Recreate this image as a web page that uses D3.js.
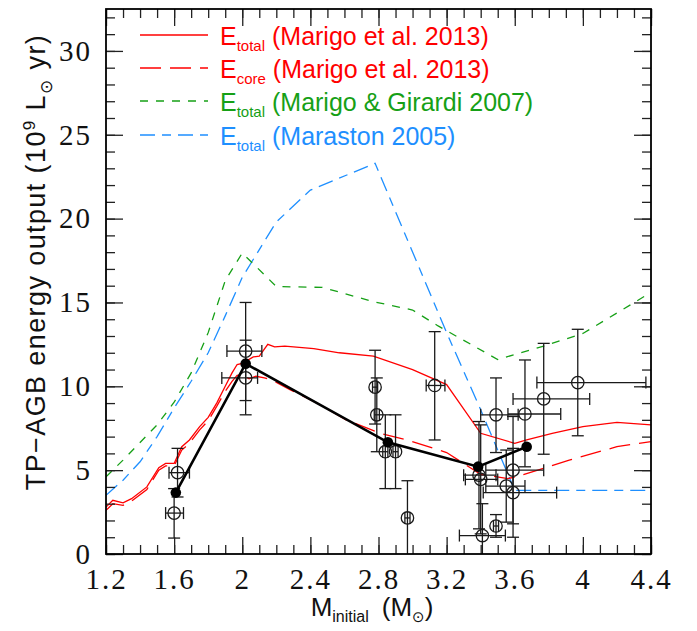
<!DOCTYPE html>
<html>
<head>
<meta charset="utf-8">
<script src="https://cdn.jsdelivr.net/npm/d3@7/dist/d3.min.js"></script>
<style>
  html, body { margin: 0; padding: 0; background: #fff; }
  svg { display: block; }
  .tick text { font-family: "Liberation Serif", serif; font-size: 29px; letter-spacing: 2px; fill: #111; }
  .tick line { stroke: #222; stroke-width: 1.3px; }
</style>
</head>
<body>
<div id="chart"></div>
<script>
// --- Data ---
// Marigo et al. 2013, total energy
const totalMass = [1.2, 1.24, 1.3, 1.35, 1.44, 1.51, 1.55, 1.6, 1.645, 1.69, 1.75, 1.8, 1.85, 1.9, 1.94, 1.97, 2.0, 2.065, 2.1, 2.15, 2.19, 2.25, 2.42, 2.57, 2.77, 3.0, 3.2, 3.4, 3.6, 3.67, 3.82, 4.0, 4.2, 4.4];
const totalEnergy = [2.8, 3.2, 3.05, 3.3, 4.0, 5.15, 5.4, 5.4, 6.4, 6.8, 7.6, 8.15, 9.0, 10.0, 10.8, 11.3, 11.37, 11.75, 11.8, 12.5, 12.35, 12.4, 12.25, 12.0, 11.8, 11.0, 10.1, 7.2, 6.6, 6.8, 7.2, 7.6, 7.85, 7.7];

// Marigo et al. 2013, core energy
const coreMass = [1.2, 1.24, 1.3, 1.35, 1.44, 1.51, 1.55, 1.6, 1.645, 1.69, 1.75, 1.8, 1.85, 1.9, 1.94, 1.97, 2.0, 2.04, 2.08, 2.13, 2.18, 2.28, 2.44, 2.61, 2.81, 2.97, 3.2, 3.4, 3.56, 3.61, 3.92, 4.2, 4.4];
const coreEnergy = [2.6, 3.0, 2.9, 3.15, 3.85, 5.0, 5.25, 5.25, 6.2, 6.6, 7.4, 7.95, 8.8, 9.7, 10.3, 10.65, 10.7, 10.45, 10.6, 10.5, 10.35, 9.8, 9.0, 8.0, 7.2, 6.8, 6.05, 4.75, 4.5, 4.6, 5.6, 6.4, 6.7];

// Marigo & Girardi 2007
const mg07Mass = [1.2, 1.3, 1.4, 1.5, 1.6, 1.7, 1.8, 1.9, 2.0, 2.2, 2.47, 2.77, 3.0, 3.15, 3.5, 3.77, 4.0, 4.4];
const mg07Energy = [4.6, 5.6, 6.65, 7.7, 9.05, 10.8, 13.2, 16.3, 17.95, 15.95, 15.9, 15.05, 14.55, 13.6, 11.6, 12.4, 13.15, 15.6];

// Maraston 2005
const m05Mass = [1.2, 1.3, 1.4, 1.5, 1.6, 1.7, 1.8, 1.9, 2.0, 2.2, 2.4, 2.78, 3.2, 3.4, 3.6, 4.4];
const m05Energy = [3.5, 4.4, 5.5, 7.0, 8.7, 10.3, 12.0, 14.2, 16.5, 19.8, 21.7, 23.3, 13.2, 8.6, 3.8, 3.8];

// individual cluster measurements with error bars
const obsMass = [1.60, 1.62, 2.02, 2.02, 2.78, 2.79, 2.84, 2.90, 2.97, 3.13, 3.39, 3.40, 3.41, 3.49, 3.49, 3.55, 3.59, 3.59, 3.66, 3.77, 3.97];
const obsEnergy = [2.44, 4.85, 12.1, 10.5, 9.95, 8.3, 6.1, 6.1, 2.15, 10.05, 4.7, 4.45, 1.1, 8.3, 1.67, 4.05, 5.0, 3.66, 8.35, 9.25, 10.22];
const obsMassLo = [1.55, 1.57, 1.91, 1.88, 2.765, 2.775, 2.825, 2.885, 2.955, 3.08, 3.30, 3.31, 3.275, 3.40, 3.475, 3.43, 3.43, 3.415, 3.56, 3.59, 3.73];
const obsMassHi = [1.655, 1.69, 2.115, 2.09, 2.795, 2.805, 2.855, 2.915, 2.985, 3.19, 3.49, 3.50, 3.545, 3.62, 3.505, 3.66, 3.77, 3.846, 3.87, 4.04, 4.37];
const obsEnergyLo = [0.95, 3.4, 9.15, 8.3, 7.75, 6.1, 3.9, 3.9, 0, 6.8, 1.5, 1.2, 0, 6.05, 1.0, 1.9, 1.8, 1.0, 5.2, 5.95, 7.05];
const obsEnergyHi = [3.9, 6.3, 15.0, 12.75, 12.15, 10.5, 8.3, 8.3, 4.37, 13.26, 7.9, 7.7, 3.0, 10.5, 2.35, 6.2, 8.2, 6.3, 11.57, 12.56, 13.4];

// binned averages joined by the black line
const binMass = [1.61, 2.02, 2.855, 3.385, 3.67];
const binEnergy = [3.66, 11.35, 6.66, 5.21, 6.4];

// axis ticks
const xMajorTicks = [1.2, 1.6, 2.0, 2.4, 2.8, 3.2, 3.6, 4.0, 4.4];
const xTickLabels = ['1.2', '1.6', '2', '2.4', '2.8', '3.2', '3.6', '4', '4.4'];
const yMajorTicks = [0, 5, 10, 15, 20, 25, 30];
const yTickLabels = ['0', '5', '10', '15', '20', '25', '30'];

// legend entries
const legendRefs = ['(Marigo et al. 2013)', '(Marigo et al. 2013)', '(Marigo & Girardi 2007)', '(Maraston 2005)'];
const legendSubs = ['total', 'core', 'total', 'total'];

// --- Setup ---
const W = 697, H = 631;
const plot = { left: 106, right: 651, top: 9, bottom: 554 };

const svg = d3.select('#chart').append('svg')
    .attr('width', W)
    .attr('height', H);

svg.append('rect').attr('width', W).attr('height', H).attr('fill', '#fff');

const x = d3.scaleLinear().domain([1.2, 4.4]).range([plot.left, plot.right]);
const y = d3.scaleLinear().domain([0, 32.5]).range([plot.bottom, plot.top]);

svg.append('clipPath').attr('id', 'clip')
    .append('rect')
    .attr('x', plot.left).attr('y', plot.top)
    .attr('width', plot.right - plot.left)
    .attr('height', plot.bottom - plot.top);

const styles = [
    { color: '#ff0000', dash: null, width: 1.3 },
    { color: '#ff0000', dash: '21,9', width: 1.3 },
    { color: '#16a016', dash: '8,8', width: 1.3 },
    { color: '#1e8fff', dash: '15,7,9,7', width: 1.3 }
];

// --- Model curves ---
function drawCurve(masses, energies, style) {
    const line = d3.line().x(d => x(d[0])).y(d => y(d[1]));
    svg.append('path')
        .datum(d3.zip(masses, energies))
        .attr('clip-path', 'url(#clip)')
        .attr('fill', 'none')
        .attr('stroke', style.color)
        .attr('stroke-width', style.width)
        .attr('stroke-dasharray', style.dash)
        .attr('d', line);
}

drawCurve(m05Mass, m05Energy, styles[3]);
drawCurve(mg07Mass, mg07Energy, styles[2]);
drawCurve(coreMass, coreEnergy, styles[1]);
drawCurve(totalMass, totalEnergy, styles[0]);

// --- Observations ---
function drawObservations() {
    const g = svg.append('g').attr('clip-path', 'url(#clip)')
        .attr('stroke', '#1a1a1a').attr('stroke-width', 1.3).attr('fill', 'none');
    const cap = 6;

    obsMass.forEach((m, i) => {
        const cx = x(m), cy = y(obsEnergy[i]);
        const x0 = x(obsMassLo[i]), x1 = x(obsMassHi[i]);
        const y0 = y(obsEnergyLo[i]), y1 = y(obsEnergyHi[i]);
        // horizontal bar + caps
        g.append('line').attr('x1', x0).attr('x2', x1).attr('y1', cy).attr('y2', cy);
        g.append('line').attr('x1', x0).attr('x2', x0).attr('y1', cy - cap).attr('y2', cy + cap);
        g.append('line').attr('x1', x1).attr('x2', x1).attr('y1', cy - cap).attr('y2', cy + cap);
        // vertical bar + caps
        g.append('line').attr('x1', cx).attr('x2', cx).attr('y1', y0).attr('y2', y1);
        if (obsEnergyLo[i] > 0) g.append('line').attr('x1', cx - cap).attr('x2', cx + cap).attr('y1', y0).attr('y2', y0);
        g.append('line').attr('x1', cx - cap).attr('x2', cx + cap).attr('y1', y1).attr('y2', y1);
        g.append('circle').attr('cx', cx).attr('cy', cy).attr('r', 6.2);
    });
}

drawObservations();

// binned means
svg.append('path')
    .datum(d3.zip(binMass, binEnergy))
    .attr('fill', 'none')
    .attr('stroke', '#000')
    .attr('stroke-width', 2.6)
    .attr('d', d3.line().x(d => x(d[0])).y(d => y(d[1])));

svg.selectAll('.bin')
    .data(d3.zip(binMass, binEnergy))
    .enter()
    .append('circle')
    .attr('cx', d => x(d[0]))
    .attr('cy', d => y(d[1]))
    .attr('r', 5.3)
    .attr('fill', '#000');

// --- Axes ---
const xMinorTicks = d3.range(12, 45).map(d => d / 10);
const yMinorTicks = d3.range(0, 33);

function addAxis(axis, transform) {
    const g = svg.append('g').attr('transform', transform).call(axis);
    g.select('.domain').remove();
    return g;
}

const bottomY = `translate(0,${plot.bottom})`;
const topY = `translate(0,${plot.top})`;
const leftX = `translate(${plot.left},0)`;
const rightX = `translate(${plot.right},0)`;

addAxis(d3.axisBottom(x).tickValues(xMinorTicks).tickSize(-9).tickFormat(''), bottomY);
addAxis(d3.axisTop(x).tickValues(xMinorTicks).tickSize(-9).tickFormat(''), topY);
addAxis(d3.axisLeft(y).tickValues(yMinorTicks).tickSize(-9).tickFormat(''), leftX);
addAxis(d3.axisRight(y).tickValues(yMinorTicks).tickSize(-9).tickFormat(''), rightX);

addAxis(d3.axisBottom(x).tickValues(xMajorTicks).tickSize(-17).tickPadding(14)
    .tickFormat((d, i) => xTickLabels[i]), bottomY);
addAxis(d3.axisTop(x).tickValues(xMajorTicks).tickSize(-17).tickFormat(''), topY);
addAxis(d3.axisLeft(y).tickValues(yMajorTicks).tickSize(-17).tickPadding(14)
    .tickFormat((d, i) => yTickLabels[i]), leftX);
addAxis(d3.axisRight(y).tickValues(yMajorTicks).tickSize(-17).tickFormat(''), rightX);

// frame
svg.append('rect')
    .attr('x', plot.left).attr('y', plot.top)
    .attr('width', plot.right - plot.left)
    .attr('height', plot.bottom - plot.top)
    .attr('fill', 'none')
    .attr('stroke', '#000')
    .attr('stroke-width', 1.8);

// --- Axis titles ---
const labelFont = '"Liberation Sans", Arial, sans-serif';

const xTitle = svg.append('text')
    .attr('x', 372).attr('y', 616)
    .attr('text-anchor', 'middle')
    .attr('font-family', labelFont)
    .attr('font-size', 26)
    .attr('fill', '#111');
xTitle.append('tspan').text('M');
xTitle.append('tspan').attr('font-size', 16).attr('dy', 6).text('initial');
xTitle.append('tspan').attr('dy', -6).text('\u2002(M');
xTitle.append('tspan').attr('font-size', 15).attr('dy', 6).attr('font-family', 'DejaVu Sans').text('\u2299');
xTitle.append('tspan').attr('dy', -6).text(')');

const yTitle = svg.append('text')
    .attr('transform', 'translate(45,262) rotate(-90)')
    .attr('text-anchor', 'middle')
    .attr('font-family', labelFont)
    .attr('font-size', 27)
    .attr('letter-spacing', 1.4)
    .attr('fill', '#111');
yTitle.append('tspan').text('TP\u2212AGB energy output (10');
yTitle.append('tspan').attr('font-size', 17).attr('dy', -10).text('9');
yTitle.append('tspan').attr('dy', 10).text(' L');
yTitle.append('tspan').attr('font-size', 17).attr('dy', 7).attr('font-family', 'DejaVu Sans').text('\u2299');
yTitle.append('tspan').attr('dy', -7).text(' yr)');

// --- Legend ---
const legendRows = [35, 68, 101, 135];
legendRows.forEach((ly, i) => {
    const s = styles[i];
    svg.append('line')
        .attr('x1', 140).attr('x2', 208)
        .attr('y1', ly).attr('y2', ly)
        .attr('stroke', s.color)
        .attr('stroke-width', s.width)
        .attr('stroke-dasharray', s.dash);
    const t = svg.append('text')
        .attr('x', 220).attr('y', ly + 10)
        .attr('font-family', labelFont)
        .attr('font-size', 25)
        .attr('fill', s.color);
    t.append('tspan').text('E');
    t.append('tspan').attr('font-size', 15).attr('dy', 6).text(legendSubs[i]);
    t.append('tspan').attr('dy', -6).text(' ' + legendRefs[i]);
});
</script>
</body>
</html>
